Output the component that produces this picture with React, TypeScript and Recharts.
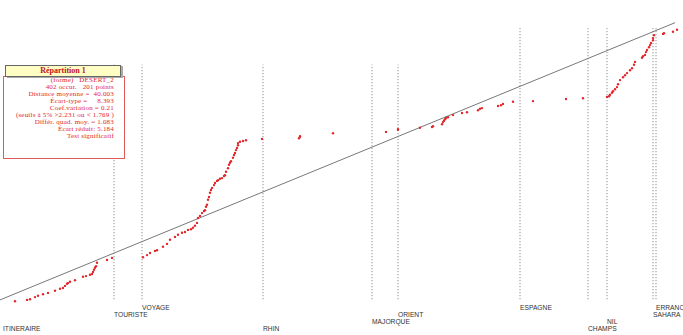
import React from 'react'
import { ScatterChart, Scatter, XAxis, YAxis, ReferenceLine } from 'recharts'

// position in corpus (x) and cumulative occurrence rank (y)
const positions = [
  15, 27, 30, 35, 38, 43, 48, 55, 60, 63, 65, 67, 68, 70, 75, 83, 86, 90, 92, 93,
  94, 95, 96, 97, 107, 112, 143, 147, 150, 155, 157, 163, 167, 170, 175, 178, 182, 185, 188, 191,
  193, 195, 197, 198, 200, 202, 204, 205, 206, 207, 208, 209, 210, 211, 212, 214, 215, 217, 218, 220,
  222, 224, 225, 226, 228, 229, 230, 231, 233, 234, 235, 236, 237, 238, 238, 240, 243, 246, 262, 299,
  300, 300, 333, 386, 398, 398, 420, 432, 433, 442, 443, 444, 445, 446, 448, 453, 462, 467, 478, 480,
  482, 498, 501, 503, 513, 533, 566, 583, 607, 609, 610, 612, 613, 615, 617, 618, 620, 623, 625, 627,
  630, 632, 634, 635, 642, 643, 645, 646, 647, 649, 650, 651, 653, 653, 654, 663, 664, 673, 677,
]
const occurrences = [
  1, 3, 4, 7, 9, 11, 13, 16, 19, 20, 23, 26, 27, 29, 31, 36, 37, 39, 40, 43,
  46, 49, 51, 56, 60, 63, 64, 67, 70, 73, 74, 79, 83, 89, 93, 96, 99, 100, 103, 104,
  106, 109, 113, 120, 123, 127, 130, 131, 136, 139, 146, 150, 156, 160, 163, 167, 170, 173, 174, 176,
  177, 180, 181, 186, 191, 196, 199, 201, 206, 210, 213, 217, 220, 224, 227, 229, 230, 231, 233, 234,
  236, 237, 241, 243, 246, 247, 249, 250, 251, 254, 257, 259, 261, 263, 264, 267, 270, 271, 274, 276,
  277, 280, 281, 283, 286, 287, 290, 291, 293, 294, 296, 299, 301, 304, 307, 311, 317, 321, 324, 327,
  331, 334, 339, 343, 349, 351, 353, 357, 360, 364, 367, 370, 374, 377, 381, 383, 384, 386, 389,
]

// co-occurring words marked on the axis
const markerWords = ['ITINERAIRE', 'TOURISTE', 'VOYAGE', 'RHIN', 'MAJORQUE', 'ORIENT', 'ESPAGNE', 'CHAMPS', 'NIL', 'SAHARA', 'ERRANCE']
const markerPositions = [3, 114, 142, 263, 372, 398, 520, 588, 607, 653, 656]
const markerRows = [3, 1, 0, 3, 2, 1, 0, 3, 2, 1, 0]
const markerTall = [false, false, false, false, false, false, true, true, true, true, true]
const markerVisible = [false, true, true, true, true, true, true, true, true, true, true]

// theoretical (uniform) distribution
const diagonal = [
  { x: 0, y: 3 },
  { x: 675, y: 399 },
]

const statLines = [
  '(forme)   DESERT_2',
  '402 occur.   201 points',
  'Distance moyenne =  40.003',
  'Écart-type =     8.393',
  'Coef.variation = 0.21',
  '(seuils à 5% >2.231 ou < 1.769 )',
  'Différ. quad. moy. = 1.083',
  'Écart réduit: 5.184',
  'Test significatif',
]

const data = positions.map((p, i) => ({ pos: p, occ: occurrences[i] }))

const RED = '#e3262b'

function Dot(props: { cx?: number; cy?: number }) {
  const { cx, cy } = props
  if (cx == null || cy == null) return null
  return <circle cx={cx} cy={cy} r={1.2} fill={RED} />
}

export default function App() {
  return (
    <div
      style={{
        position: 'absolute',
        left: 0,
        top: 0,
        width: 683,
        height: 335,
        background: '#fff',
        overflow: 'hidden',
      }}
    >
      <ScatterChart width={683} height={335} margin={{ top: 22, right: 0, bottom: 33, left: 0 }}>
        <XAxis type="number" dataKey="pos" domain={[0, 683]} hide />
        <YAxis type="number" dataKey="occ" domain={[0, 400]} hide />
        <ReferenceLine
          segment={diagonal}
          stroke="#555"
          strokeWidth={0.8}
          ifOverflow="visible"
        />
        {markerWords.map((w, i) => (
          <ReferenceLine
            key={w}
            segment={[
              { x: markerPositions[i], y: 4 },
              { x: markerPositions[i], y: markerTall[i] ? 391 : 339 },
            ]}
            stroke="#777"
            strokeOpacity={markerVisible[i] ? 1 : 0}
            strokeDasharray="1 2"
            ifOverflow="visible"
            label={(props: any) => {
              const vb = props.viewBox || {}
              const bottom = (vb.y ?? 0) + (vb.height ?? 0)
              return (
                <text
                  x={vb.x}
                  y={bottom + 10.5 + markerRows[i] * 7}
                  fontSize={6.7}
                  fill="#333"
                  fontFamily="'Liberation Sans', Arial, sans-serif"
                >
                  {w}
                </text>
              )
            }}
          />
        ))}
        <Scatter data={data} shape={<Dot />} isAnimationActive={false} />
      </ScatterChart>

      <div
        style={{
          position: 'absolute',
          left: 3,
          top: 76,
          width: 110,
          height: 81,
          border: '1px solid #e05a5a',
          background: '#fff',
          paddingRight: 10,
          boxSizing: 'content-box',
          fontFamily: "'Liberation Serif', 'Times New Roman', serif",
          fontSize: 7,
          letterSpacing: 0.2,
          lineHeight: '7px',
          color: RED,
          textAlign: 'right',
          whiteSpace: 'pre',
        }}
      >
        {statLines.map((l) => (
          <div key={l}>{l}</div>
        ))}
      </div>
      <div
        style={{
          position: 'absolute',
          left: 5,
          top: 65,
          width: 114,
          height: 10,
          background: '#fdfdc4',
          border: '1px solid #666',
          boxShadow: '2px 1px 0 #aaa',
          fontFamily: "'Liberation Serif', 'Times New Roman', serif",
          fontWeight: 'bold',
          fontSize: 8,
          lineHeight: '10px',
          color: '#c0141c',
          textAlign: 'center',
        }}
      >
        Répartition 1
      </div>
    </div>
  )
}
